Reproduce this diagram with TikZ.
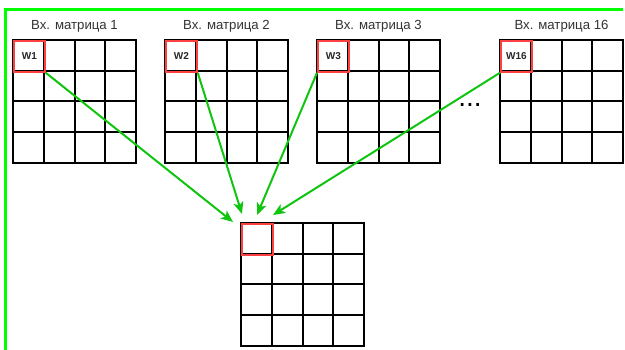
\documentclass[tikz,border=0pt]{standalone}
\usepackage{fontspec}
\setmainfont{Liberation Sans}
\usetikzlibrary{arrows.meta}
\definecolor{frameg}{HTML}{00FF00}
\definecolor{arrg}{HTML}{10C510}
\definecolor{cellred}{HTML}{FF4040}
\definecolor{labgray}{HTML}{333333}
\tikzset{
  x=1pt, y=-1pt,
  mat/.pic={
    \foreach \i in {1,2,3}{
      \draw[line width=2pt] (\i*30.75,0) -- (\i*30.75,123);
      \draw[line width=2pt] (0,\i*30.75) -- (123,\i*30.75);
    }
    \draw[line width=2pt] (0,0) rectangle (123,123);
  },
  redcell/.style={draw=cellred, line width=2pt, minimum size=30.75pt, inner sep=0pt,
    anchor=north west, font=\fontsize{10}{10}\selectfont\bfseries, text=black!85},
  lab/.style={font=\fontsize{13.2}{14}\selectfont, text=labgray},
  arr/.style={draw=arrg, line width=2pt, -{Stealth[length=12pt,width=10pt,inset=3pt]}},
}
\begin{document}
\begin{tikzpicture}
\useasboundingbox (0,0) rectangle (625,350);
% frame
\draw[frameg, line width=3pt] (5.5,350) -- (5.5,10) -- (623,10);
% input matrices
\pic at (13,40) {mat};
\pic at (165,40) {mat};
\pic at (317,40) {mat};
\pic at (500,40) {mat};
\pic at (241,223) {mat};
\node[redcell] (w1) at (13,40) {W1};
\node[redcell] (w2) at (165,40) {W2};
\node[redcell] (w3) at (317,40) {W3};
\node[redcell] (w16) at (500,40) {W16};
\node[redcell] (out) at (241,223) {};
% labels
\node[lab] (l1) at (74.5,26) {Вх. матрица 1};
\node[lab] (l2) at (226.5,26) {Вх. матрица 2};
\node[lab] (l3) at (378.5,26) {Вх. матрица 3};
\node[lab] (l16) at (561.5,26) {Вх. матрица 16};
\node[font=\fontsize{28}{28}\selectfont, anchor=base, inner sep=0pt] (dots) at (470,106.5) {...};
% arrow ends
\coordinate (t1) at (233,222);
\coordinate (t2) at (242,214);
\coordinate (t3) at (257,215);
\coordinate (t4) at (273,215);
\draw[arr] (w1.south east) -- (t1);
\draw[arr] (w2.south east) -- (t2);
\draw[arr] (w3.south west) -- (t3);
\draw[arr] (w16.south west) -- (t4);
\end{tikzpicture}
\end{document}
